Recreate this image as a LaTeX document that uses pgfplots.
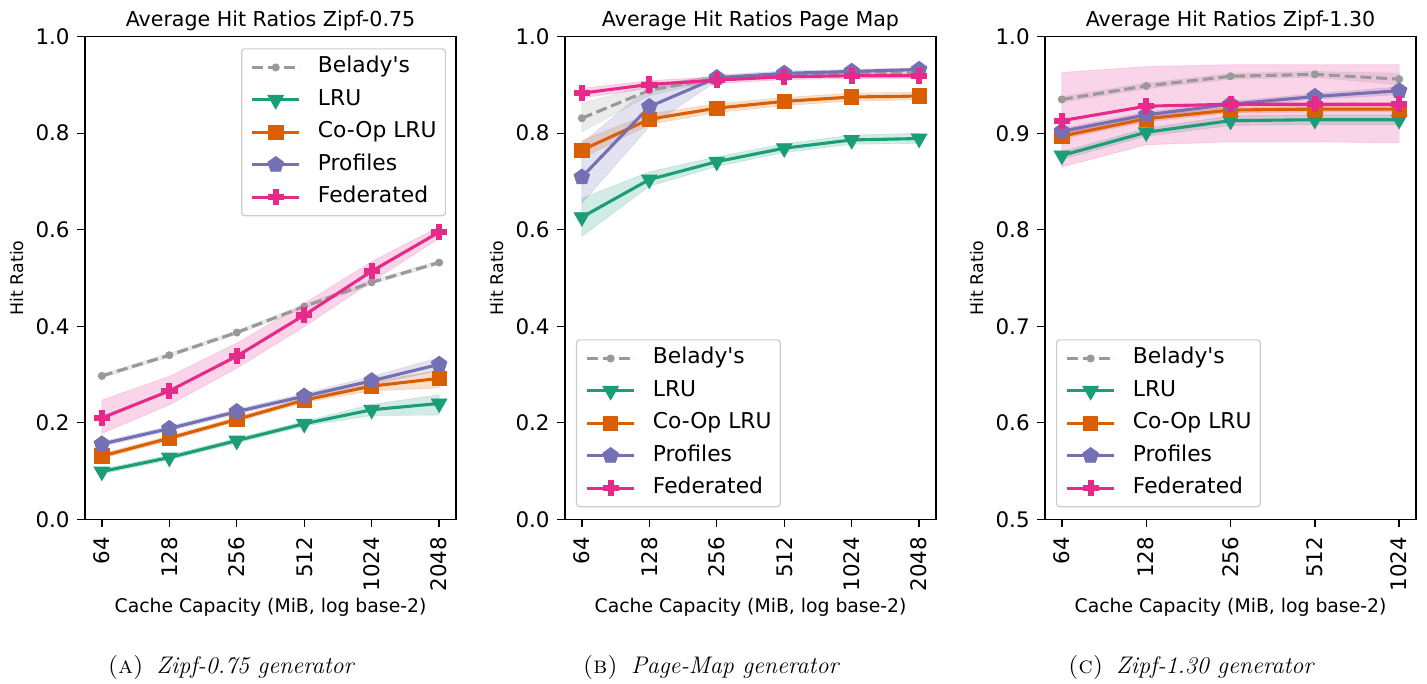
\documentclass[border=0pt]{standalone}
\usepackage{fontspec}
\usepackage{pgfplots}
\pgfplotsset{compat=1.18}
\usepackage{pgfplotstable}
\usepgfplotslibrary{fillbetween}
\newfontfamily\dv{DejaVu Sans}

\definecolor{cbel}{HTML}{999999}
\definecolor{clru}{HTML}{1B9E77}
\definecolor{ccoop}{HTML}{D95F02}
\definecolor{cprof}{HTML}{7570B3}
\definecolor{cfed}{HTML}{E7298A}

% filled plus marker
\pgfdeclareplotmark{fplus}{%
  \pgfmathsetlengthmacro\fpS{\pgfplotmarksize}%
  \pgfmathsetlengthmacro\fpA{\pgfplotmarksize/3}%
  \pgfpathmoveto{\pgfqpoint{-\fpA}{-\fpS}}%
  \pgfpathlineto{\pgfqpoint{\fpA}{-\fpS}}%
  \pgfpathlineto{\pgfqpoint{\fpA}{-\fpA}}%
  \pgfpathlineto{\pgfqpoint{\fpS}{-\fpA}}%
  \pgfpathlineto{\pgfqpoint{\fpS}{\fpA}}%
  \pgfpathlineto{\pgfqpoint{\fpA}{\fpA}}%
  \pgfpathlineto{\pgfqpoint{\fpA}{\fpS}}%
  \pgfpathlineto{\pgfqpoint{-\fpA}{\fpS}}%
  \pgfpathlineto{\pgfqpoint{-\fpA}{\fpA}}%
  \pgfpathlineto{\pgfqpoint{-\fpS}{\fpA}}%
  \pgfpathlineto{\pgfqpoint{-\fpS}{-\fpA}}%
  \pgfpathlineto{\pgfqpoint{-\fpA}{-\fpA}}%
  \pgfpathclose
  \pgfusepathqfillstroke
}

% mean hit ratio with lower/upper band per policy
\pgfplotstableread{
x bel bello belhi lru lrulo lruhi coop cooplo coophi prof proflo profhi fed fedlo fedhi
0 0.297 0.293 0.301 0.099 0.094 0.104 0.131 0.126 0.136 0.156 0.151 0.161 0.210 0.178 0.247
1 0.340 0.336 0.344 0.128 0.123 0.133 0.168 0.163 0.173 0.188 0.183 0.193 0.266 0.237 0.296
2 0.387 0.383 0.391 0.163 0.158 0.168 0.207 0.202 0.212 0.223 0.218 0.228 0.338 0.313 0.365
3 0.441 0.437 0.445 0.198 0.193 0.203 0.247 0.242 0.252 0.255 0.250 0.261 0.423 0.399 0.447
4 0.491 0.487 0.495 0.227 0.215 0.238 0.276 0.266 0.286 0.287 0.279 0.296 0.514 0.492 0.534
5 0.532 0.528 0.536 0.240 0.216 0.258 0.292 0.272 0.308 0.321 0.308 0.335 0.595 0.582 0.606
}\tabA

\pgfplotstableread{
x bel bello belhi lru lrulo lruhi coop cooplo coophi prof proflo profhi fed fedlo fedhi
0 0.831 0.803 0.862 0.626 0.586 0.665 0.765 0.748 0.785 0.709 0.655 0.779 0.883 0.873 0.893
1 0.889 0.878 0.900 0.704 0.690 0.720 0.829 0.818 0.840 0.855 0.814 0.896 0.901 0.893 0.909
2 0.914 0.909 0.919 0.741 0.731 0.751 0.852 0.843 0.861 0.915 0.908 0.921 0.910 0.903 0.917
3 0.921 0.917 0.925 0.769 0.760 0.778 0.866 0.857 0.874 0.924 0.919 0.929 0.917 0.911 0.923
4 0.924 0.920 0.928 0.786 0.777 0.796 0.875 0.867 0.883 0.928 0.924 0.932 0.919 0.913 0.925
5 0.925 0.921 0.929 0.789 0.779 0.800 0.877 0.869 0.885 0.932 0.928 0.936 0.919 0.913 0.925
}\tabB

\pgfplotstableread{
x bel bello belhi lru lrulo lruhi coop cooplo coophi prof proflo profhi fed fedlo fedhi
0 0.935 0.932 0.938 0.877 0.873 0.881 0.897 0.894 0.900 0.902 0.899 0.905 0.913 0.865 0.963
1 0.949 0.946 0.952 0.901 0.897 0.905 0.915 0.912 0.918 0.919 0.916 0.922 0.928 0.888 0.969
2 0.959 0.956 0.962 0.913 0.908 0.918 0.924 0.921 0.927 0.930 0.927 0.933 0.930 0.891 0.971
3 0.961 0.958 0.964 0.914 0.909 0.919 0.925 0.922 0.928 0.938 0.935 0.941 0.930 0.891 0.971
4 0.956 0.950 0.962 0.914 0.909 0.919 0.925 0.922 0.928 0.944 0.940 0.948 0.930 0.890 0.971
}\tabC

\pgfplotsset{
  bel/.style={color=cbel, line width=1.55pt, dash pattern=on 5.5pt off 2.4pt,
    mark=*, mark size=1.8pt, mark options={solid, line width=0.4pt}},
  lru/.style={color=clru, line width=1.55pt, solid,
    mark=triangle*, mark size=4.5pt, mark options={rotate=180, line width=0.4pt}},
  coop/.style={color=ccoop, line width=1.55pt, solid,
    mark=square*, mark size=3.6pt, mark options={line width=0.4pt}},
  prof/.style={color=cprof, line width=1.55pt, solid,
    mark=pentagon*, mark size=4.1pt, mark options={line width=0.4pt}},
  fed/.style={color=cfed, line width=1.55pt, solid,
    mark=fplus, mark size=3.8pt, mark options={line width=0.4pt}},
  hitaxis/.style={
    scale only axis, width=185.5pt, height=241.3pt,
    axis line style={line width=0.7pt},
    tick style={line width=0.7pt, black},
    tick align=outside, major tick length=3.8pt,
    tick pos=left,
    /pgf/number format/assume math mode=true,
    yticklabel style={/pgf/number format/fixed, /pgf/number format/fixed zerofill,
      /pgf/number format/precision=1},
    tick label style={font=\fontsize{10.7}{12}\dv},
    xticklabel style={rotate=90, anchor=east, inner sep=0pt},
    yticklabel style={anchor=east, inner sep=0pt},
    xticklabel shift=4.9pt,
    yticklabel shift=3.7pt,
    every axis title shift=0pt,
    title style={font=\fontsize{10.3}{12}\dv, at={(axis description cs:0.5,1.0207)}, anchor=base, inner sep=0pt},
    xlabel={Cache Capacity (MiB, log base-2)},
    ylabel={Hit Ratio},
    xlabel style={font=\fontsize{9.4}{11}\dv, at={(axis description cs:0.5,-0.1823)}, anchor=center, inner sep=0pt},
    ylabel style={font=\fontsize{8.7}{10}\dv, at={(axis description cs:-0.1833,0.5)}, anchor=center, inner sep=0pt},
    legend cell align=left,
    legend style={font=\fontsize{10.9}{13}\dv, draw=black!20, line width=0.6pt,
      rounded corners=1.5pt, fill=white, inner xsep=4.4pt, inner ysep=4pt,
      row sep=5.6pt,
      nodes={inner sep=0pt, text height=8pt, text depth=2.6pt},
      /tikz/every odd column/.append style={column sep=8.5pt}},
    legend image code/.code={%
      \draw[sharp corners, mark repeat=2, mark phase=2, #1]
        plot coordinates {(0pt,0pt) (11.85pt,0pt) (23.7pt,0pt)};},
  },
}

\newcommand{\band}[3]{%
  \addplot[name path=#2hi, draw=none, forget plot] table[x=x, y=#2hi] {#1};
  \addplot[name path=#2lo, draw=none, forget plot] table[x=x, y=#2lo] {#1};
  \addplot[fill=#3, fill opacity=0.2, draw=#3, draw opacity=0.15, line width=0.4pt, forget plot]
    fill between[of=#2hi and #2lo];
}

\newcommand{\allseries}[1]{%
  \band{#1}{bel}{cbel}
  \band{#1}{lru}{clru}
  \band{#1}{coop}{ccoop}
  \band{#1}{prof}{cprof}
  \band{#1}{fed}{cfed}
  \addplot[bel] table[x=x, y=bel] {#1}; \addlegendentry{Belady\textquotesingle s}
  \addplot[lru] table[x=x, y=lru] {#1}; \addlegendentry{LRU}
  \addplot[coop] table[x=x, y=coop] {#1}; \addlegendentry{Co-Op LRU}
  \addplot[prof] table[x=x, y=prof] {#1}; \addlegendentry{Profiles}
  \addplot[fed] table[x=x, y=fed] {#1}; \addlegendentry{Federated}
}

\begin{document}
\begin{tikzpicture}

\begin{axis}[hitaxis, at={(42.5pt,82.35pt)}, anchor=south west,
  title={Average Hit Ratios Zipf-0.75},
  xmin=-0.25, xmax=5.25, xtick={0,...,5}, xticklabels={64,128,256,512,1024,2048},
  ymin=0, ymax=1, ytick={0,0.2,0.4,0.6,0.8,1.0},
  legend style={at={(0.973,0.976)}, anchor=north east}]
  \allseries{\tabA}
\end{axis}

\begin{axis}[hitaxis, at={(282.5pt,82.35pt)}, anchor=south west,
  title={Average Hit Ratios Page Map},
  xmin=-0.25, xmax=5.25, xtick={0,...,5}, xticklabels={64,128,256,512,1024,2048},
  ymin=0, ymax=1, ytick={0,0.2,0.4,0.6,0.8,1.0},
  legend style={at={(0.0296,0.0249)}, anchor=south west}]
  \allseries{\tabB}
\end{axis}

\begin{axis}[hitaxis, at={(522.5pt,82.35pt)}, anchor=south west,
  title={Average Hit Ratios Zipf-1.30},
  xmin=-0.2, xmax=4.2, xtick={0,...,4}, xticklabels={64,128,256,512,1024},
  ymin=0.5, ymax=1, ytick={0.5,0.6,0.7,0.8,0.9,1.0},
  legend style={at={(0.0296,0.0249)}, anchor=south west}]
  \allseries{\tabC}
\end{axis}

% sub-figure captions, centred under each panel
\tikzset{subcap/.style={anchor=base, inner sep=0pt, font=\fontsize{12}{14}\selectfont}}
\node[subcap] at (115.75pt,5.35pt) {\textsc{(a)}\hspace{0.55em}\textit{Zipf-0.75 generator}};
\node[subcap] at (355.75pt,5.35pt) {\textsc{(b)}\hspace{0.55em}\textit{Page-Map generator}};
\node[subcap] at (595.75pt,5.35pt) {\textsc{(c)}\hspace{0.55em}\textit{Zipf-1.30 generator}};

% fixed page frame
\pgfresetboundingbox
\path[use as bounding box] (0,0) rectangle (713.5pt,342pt);
\end{tikzpicture}
\end{document}
